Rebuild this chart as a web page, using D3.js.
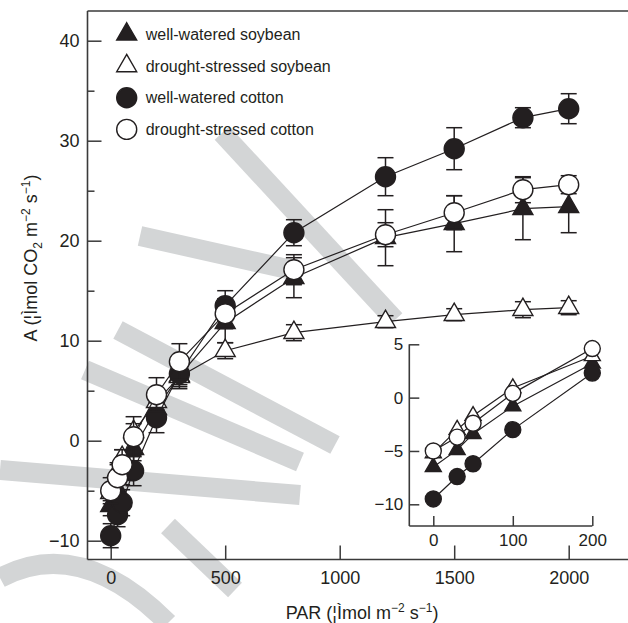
<!DOCTYPE html>
<html>
<head>
<meta charset="utf-8">
<script src="https://cdn.jsdelivr.net/npm/d3@7"></script>
<style>
  body { margin: 0; background: #fff; }
  svg text { font-family: "Liberation Sans", Arial, Helvetica, sans-serif; fill: #231f20; }
</style>
</head>
<body>
<div id="chart"></div>
<script>
/* DATA */
const par = [0, 30, 50, 100, 200, 300, 500, 800, 1200, 1500, 1800, 2000];

const wwSoy    = [-6.5, -4.9, -3.4, -0.8, 3.2, 6.5, 11.8, 16.3, 20.3, 21.7, 23.2, 23.4];
const wwSoyErr = [1.0, 1.0, 1.0, 1.2, 1.2, 1.3, 2.0, 2.0, 2.8, 2.8, 3.1, 2.6];
const dsSoy    = [-5.2, -3.0, -1.7, 0.9, 3.9, 6.4, 9.0, 10.8, 11.9, 12.6, 13.1, 13.3];
const dsSoyErr = [0.8, 0.8, 0.8, 0.8, 0.8, 0.8, 0.8, 0.8, 0.6, 0.6, 0.8, 0.7];
const wwCot    = [-9.5, -7.4, -6.2, -3.0, 2.3, 6.7, 13.5, 20.8, 26.4, 29.2, 32.3, 33.2];
const wwCotErr = [1.2, 1.2, 1.3, 1.5, 1.5, 1.3, 1.5, 1.3, 1.9, 2.1, 1.0, 1.5];
const dsCot    = [-5.0, -3.7, -2.4, 0.4, 4.6, 7.9, 12.7, 17.1, 20.6, 22.8, 25.1, 25.6];
const dsCotErr = [1.3, 1.3, 1.5, 2.0, 1.7, 1.8, 1.5, 1.5, 1.2, 1.7, 1.3, 0.9];

const seriesNames = ["well-watered soybean", "drought-stressed soybean", "well-watered cotton", "drought-stressed cotton"];

const xTicks = [0, 500, 1000, 1500, 2000];
const yTicks = [-10, 0, 10, 20, 30, 40];
const yMinorTicks = [-5, 5, 15, 25, 35];
const insetXTicks = [0, 100, 200];
const insetYTicks = [-10, -5, 0, 5];
const insetMaxPar = 200;

/* CONSTANTS */
const width = 628, height = 623;
const ink = "#231f20";

const series = [
  { name: seriesNames[0], vals: wwSoy, err: wwSoyErr, shape: "tri", fill: ink },
  { name: seriesNames[1], vals: dsSoy, err: dsSoyErr, shape: "tri", fill: "#fff" },
  { name: seriesNames[2], vals: wwCot, err: wwCotErr, shape: "circle", fill: ink },
  { name: seriesNames[3], vals: dsCot, err: dsCotErr, shape: "circle", fill: "#fff" }
];

const svg = d3.select("#chart").append("svg")
  .attr("width", width)
  .attr("height", height);

// watermark in the background
const wm = svg.append("g")
  .attr("fill", "none")
  .attr("stroke", "#d3d5d6")
  .attr("stroke-width", 20);
[
  "M222,133 L395,320",
  "M140,236 L292,270",
  "M118,330 L335,445",
  "M85,370 L300,462",
  "M0,470 L300,495",
  "M168,526 L235,590",
  "M0,578 Q80,535 168,623"
].forEach(d => wm.append("path").attr("d", d));

/* SCALES */
const x = d3.scaleLinear().domain([0, 2000]).range([110.7, 568.7]);
const y = d3.scaleLinear().domain([-10, 40]).range([540.7, 40.7]);
const axLeft = 87.5, axBottom = 559.5, axTop = 11;

// frame
const frame = svg.append("g").attr("stroke", "#3a3a3a").attr("stroke-width", 1.6);
frame.append("line").attr("x1", axLeft).attr("x2", axLeft).attr("y1", axTop).attr("y2", axBottom);
frame.append("line").attr("x1", axLeft).attr("x2", width).attr("y1", axBottom).attr("y2", axBottom);
frame.append("line").attr("x1", axLeft).attr("x2", width).attr("y1", axTop).attr("y2", axTop);

// axes
svg.append("g")
  .attr("transform", `translate(${axLeft},0)`)
  .call(d3.axisLeft(y).tickValues(yTicks).tickSize(-14).tickPadding(8));
svg.append("g")
  .attr("transform", `translate(${axLeft},0)`)
  .call(d3.axisLeft(y).tickValues(yMinorTicks).tickSize(-7).tickFormat(""));
svg.append("g")
  .attr("transform", `translate(0,${axBottom})`)
  .call(d3.axisBottom(x).tickValues(xTicks).tickSize(-14).tickPadding(12).tickFormat(d3.format("d")));

svg.selectAll(".domain").remove();
svg.selectAll(".tick line").attr("stroke", "#3a3a3a").attr("stroke-width", 1.5);
svg.selectAll(".tick text").attr("font-size", 18).attr("fill", ink);

// axis titles
const xTitle = svg.append("text")
  .attr("x", 362).attr("y", 619)
  .attr("text-anchor", "middle")
  .attr("font-size", 18);
xTitle.append("tspan").text("PAR (\u00a6\u00ccmol m");
xTitle.append("tspan").attr("font-size", 12).attr("dy", -7).text("\u22122");
xTitle.append("tspan").attr("dy", 7).text(" s");
xTitle.append("tspan").attr("font-size", 12).attr("dy", -7).text("\u22121");
xTitle.append("tspan").attr("dy", 7).text(")");

const yTitle = svg.append("text")
  .attr("transform", "translate(36.5,258) rotate(-90)")
  .attr("text-anchor", "middle")
  .attr("font-size", 18);
yTitle.append("tspan").text("A (\u00a6\u00ccmol CO");
yTitle.append("tspan").attr("font-size", 12).attr("dy", 5).text("2");
yTitle.append("tspan").attr("dy", -5).text(" m");
yTitle.append("tspan").attr("font-size", 12).attr("dy", -7).text("\u22122");
yTitle.append("tspan").attr("dy", 7).text(" s");
yTitle.append("tspan").attr("font-size", 12).attr("dy", -7).text("\u22121");
yTitle.append("tspan").attr("dy", 7).text(")");

/* MARKERS */
function marker(sel, shape, fill, r) {
  if (shape === "circle") {
    sel.append("circle").attr("r", r);
  } else {
    const side = 2 * r;
    sel.append("path").attr("d", d3.symbol(d3.symbolTriangle, Math.sqrt(3) / 4 * side * side)());
  }
  sel.selectAll("circle, path")
    .attr("fill", fill)
    .attr("stroke", ink)
    .attr("stroke-width", 1.4);
}

function drawSeries(g, xs, ys, s, n, r, withErr) {
  const pts = d3.range(n).map(i => ({ px: par[i], v: s.vals[i], e: s.err[i] }));
  const line = d3.line().x(d => xs(d.px)).y(d => ys(d.v));
  g.append("path")
    .attr("d", line(pts))
    .attr("fill", "none")
    .attr("stroke", ink)
    .attr("stroke-width", 1.2);
  if (withErr) {
    const eb = g.append("g").attr("stroke", ink).attr("stroke-width", 1.5);
    pts.forEach(d => {
      const cx = xs(d.px), y0 = ys(d.v - d.e), y1 = ys(d.v + d.e);
      eb.append("line").attr("x1", cx).attr("x2", cx).attr("y1", y0).attr("y2", y1);
      eb.append("line").attr("x1", cx - 8).attr("x2", cx + 8).attr("y1", y0).attr("y2", y0);
      eb.append("line").attr("x1", cx - 8).attr("x2", cx + 8).attr("y1", y1).attr("y2", y1);
    });
  }
  pts.forEach(d => {
    const m = g.append("g").attr("transform", `translate(${xs(d.px)},${ys(d.v)})`);
    marker(m, s.shape, s.fill, r);
  });
}

const mainG = svg.append("g");
series.forEach(s => drawSeries(mainG.append("g"), x, y, s, par.length, 10, true));

/* LEGEND */
const legend = svg.append("g").attr("transform", "translate(126.7,34.3)");
series.forEach((s, i) => {
  const row = legend.append("g").attr("transform", `translate(0,${i * 31.7})`);
  marker(row.append("g"), s.shape, s.fill, 10);
  row.append("text")
    .attr("x", 19).attr("dy", "0.35em")
    .attr("font-size", 16)
    .text(s.name);
});

/* INSET */
const ix = d3.scaleLinear().domain([0, 200]).range([433.3, 592.3]);
const iy = d3.scaleLinear().domain([-10, 5]).range([504.3, 344.3]);
const inLeft = 409.3, inBottom = 526;

const inset = svg.append("g");
const iframe = inset.append("g").attr("stroke", "#3a3a3a").attr("stroke-width", 1.6);
iframe.append("line").attr("x1", inLeft).attr("x2", inLeft).attr("y1", iy(5)).attr("y2", inBottom);
iframe.append("line").attr("x1", inLeft).attr("x2", ix(200)).attr("y1", inBottom).attr("y2", inBottom);

inset.append("g")
  .attr("transform", `translate(${inLeft},0)`)
  .call(d3.axisLeft(iy).tickValues(insetYTicks).tickSize(-10).tickPadding(6));
inset.append("g")
  .attr("transform", `translate(0,${inBottom})`)
  .call(d3.axisBottom(ix).tickValues(insetXTicks).tickSize(-10).tickPadding(8));
inset.selectAll(".domain").remove();
inset.selectAll(".tick line").attr("stroke", "#3a3a3a").attr("stroke-width", 1.5);
inset.selectAll(".tick text").attr("font-size", 17).attr("fill", ink);

const nInset = par.filter(p => p <= insetMaxPar).length;
series.forEach(s => drawSeries(inset.append("g"), ix, iy, s, nInset, 8, false));
</script>
</body>
</html>
